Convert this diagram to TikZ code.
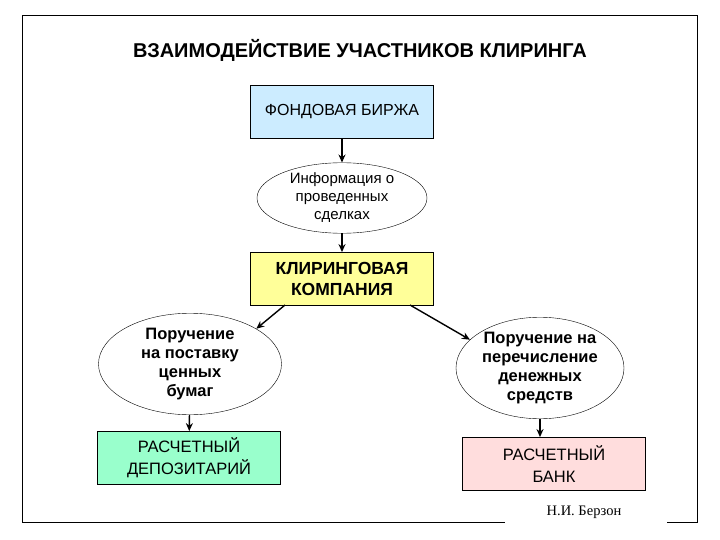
\documentclass[tikz,border=0pt]{standalone}
\usepackage{fontspec}
\setmainfont{Liberation Sans}
\newfontfamily\serifrm{Liberation Serif}
\usetikzlibrary{shapes.geometric,arrows.meta}
\begin{document}
\begin{tikzpicture}[x=1pt,y=-1pt,
  box/.style={draw,thick,minimum width=183pt,minimum height=53pt,align=center,font=\fontsize{16}{19}\selectfont},
  ell/.style={draw,ellipse,inner sep=0pt,align=center,font=\bfseries\fontsize{16.5}{19}\selectfont},
  arr/.style={-{Stealth[length=8pt,width=7pt]},line width=1.4pt}]
\useasboundingbox (0,0) rectangle (720,540);
\draw (667,522) -- (697,522) -- (697,15) -- (22,15) -- (22,522) -- (505,522);
\node (title) at (360,50) {\bfseries\fontsize{20}{24}\selectfont ВЗАИМОДЕЙСТВИЕ УЧАСТНИКОВ КЛИРИНГА};
\node[box,fill={rgb,255:red,204;green,236;blue,255}] (fb) at (342,112) {ФОНДОВАЯ БИРЖА};
\node[ell,minimum width=170pt,minimum height=70pt,font=\fontsize{15}{18}\selectfont] (info) at (342,198) {Информация о\\проведенных\\сделках};
\node[box,fill={rgb,255:red,255;green,255;blue,153},font=\bfseries\fontsize{17.5}{21}\selectfont] (kk) at (342,279) {КЛИРИНГОВАЯ\\КОМПАНИЯ};
\node[ell,minimum width=183pt,minimum height=88pt] (le) at (190,364) {Поручение\\на поставку\\ценных\\бумаг};
\node[ell,minimum width=168pt,minimum height=88pt] (re) at (540,368) {Поручение на\\перечисление\\денежных\\средств};
\node[box,fill={rgb,255:red,153;green,255;blue,204},font=\fontsize{16.5}{22}\selectfont] (dep) at (189,458) {РАСЧЕТНЫЙ\\ДЕПОЗИТАРИЙ};
\node[box,fill={rgb,255:red,255;green,221;blue,221},font=\fontsize{16.5}{22}\selectfont] (bank) at (554,464) {РАСЧЕТНЫЙ\\БАНК};
\node (author) at (584,512) {\serifrm\fontsize{14.5}{16}\selectfont Н.И. Берзон};
\coordinate (k1) at (285,305);
\coordinate (k2) at (410,305);
\draw[arr] (fb) -- (info);
\draw[arr] (info) -- (kk);
\draw[arr] (k1) -- (le.28);
\draw[arr] (k2) -- (re.158);
\draw[arr] (le) -- (dep);
\draw[arr] (re.south) -- (re.south |- bank.north);
\end{tikzpicture}
\end{document}
